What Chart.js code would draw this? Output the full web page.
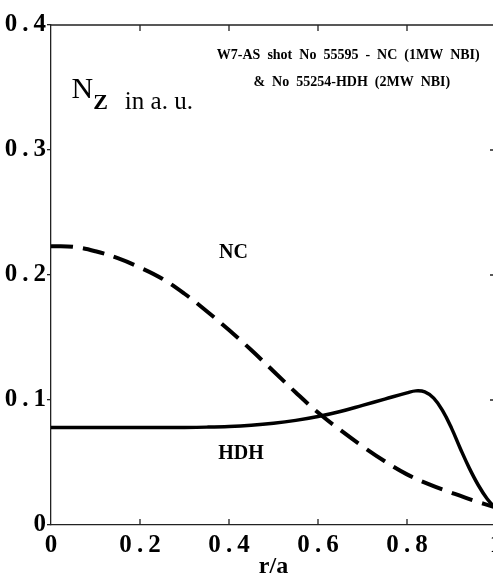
<!DOCTYPE html>
<html>
<head>
<meta charset="utf-8">
<script src="https://cdn.jsdelivr.net/npm/chart.js@4/dist/chart.umd.min.js"></script>
<style>
  html, body { margin: 0; padding: 0; background: #fff; overflow: hidden; }
  #wrap { width: 497px; height: 583px; }
</style>
</head>
<body>
<div id="wrap"><canvas id="grafico" width="497" height="583"></canvas></div>
<script>
// Valores (r/a e N_Z em unidades arbitrárias)
const rNC = [0, 0.05, 0.1, 0.15, 0.2, 0.25, 0.3, 0.35, 0.4, 0.45, 0.5, 0.55, 0.6, 0.65, 0.7, 0.75, 0.8, 0.85, 0.9, 0.95, 1.0];
const valoresNC = [0.223, 0.2225, 0.219, 0.2135, 0.206, 0.197, 0.185, 0.171, 0.156, 0.140, 0.123, 0.106, 0.090, 0.076, 0.063, 0.051, 0.0405, 0.0325, 0.0258, 0.0195, 0.0140];

const rHDH = [0, 0.1, 0.2, 0.3, 0.35, 0.4, 0.45, 0.5, 0.55, 0.6, 0.65, 0.7, 0.75, 0.8, 0.82, 0.84, 0.86, 0.88, 0.9, 0.92, 0.94, 0.96, 0.98, 1.0];
const valoresHDH = [0.078, 0.078, 0.078, 0.0781, 0.0783, 0.0788, 0.0798, 0.0814, 0.0837, 0.0868, 0.0908, 0.0957, 0.1007, 0.1057, 0.1073, 0.1065, 0.1015, 0.0915, 0.0775, 0.061, 0.0455, 0.032, 0.021, 0.013];

const ticksX = [0, 0.2, 0.4, 0.6, 0.8, 1.0];
const ticksY = [0, 0.1, 0.2, 0.3, 0.4];

const fonte = "'Liberation Serif', 'Times New Roman', serif";

// Formata os rótulos como na figura: "0 . 2"
const rotulo = v => (Math.abs(v) < 1e-9 ? '0' : (Math.abs(v - 1) < 1e-9 ? '1' : v.toFixed(1).replace('.', '\u2009.\u2009')));

// Textos dentro do gráfico, posicionados em coordenadas de dados
const anotacoes = {
  id: 'anotacoes',
  afterDraw(chart) {
    const { ctx, chartArea, scales: { x, y } } = chart;
    ctx.save();

    // linha superior e marcas internas
    ctx.strokeStyle = '#222';
    ctx.lineWidth = 1.3;
    ctx.beginPath();
    ctx.moveTo(chartArea.left, chartArea.top);
    ctx.lineTo(chartArea.right, chartArea.top);
    ticksX.forEach(v => {
      if (v === 0 || v === 1) return;
      const px = x.getPixelForValue(v);
      ctx.moveTo(px, chartArea.top);
      ctx.lineTo(px, chartArea.top + 6);
      ctx.moveTo(px, chartArea.bottom);
      ctx.lineTo(px, chartArea.bottom - 6);
    });
    ticksY.forEach(v => {
      if (v === 0 || v === 0.4) return;
      const py = y.getPixelForValue(v);
      ctx.moveTo(chartArea.right, py);
      ctx.lineTo(chartArea.right - 6, py);
    });
    ctx.stroke();

    ctx.fillStyle = '#000';
    ctx.textBaseline = 'alphabetic';

    ctx.textAlign = 'center';
    ctx.font = `bold 14px ${fonte}`;
    ctx.fillText('W7-AS  shot  No  55595  -  NC  (1MW  NBI)', x.getPixelForValue(0.668), y.getPixelForValue(0.3725));
    ctx.fillText('&  No  55254-HDH  (2MW  NBI)', x.getPixelForValue(0.676), y.getPixelForValue(0.351));

    ctx.font = `bold 20px ${fonte}`;
    ctx.fillText('NC', x.getPixelForValue(0.41), y.getPixelForValue(0.2135));
    ctx.fillText('HDH', x.getPixelForValue(0.427), y.getPixelForValue(0.053));

    ctx.textAlign = 'left';
    ctx.font = `30px ${fonte}`;
    ctx.fillText('N', x.getPixelForValue(0.046), y.getPixelForValue(0.342));
    ctx.font = `bold 22px ${fonte}`;
    ctx.fillText('Z', x.getPixelForValue(0.095), y.getPixelForValue(0.3328));
    ctx.font = `25px ${fonte}`;
    ctx.fillText('in a. u.', x.getPixelForValue(0.166), y.getPixelForValue(0.3328));

    ctx.restore();
  }
};

new Chart(document.getElementById('grafico'), {
  type: 'line',
  data: {
    datasets: [
      {
        label: 'NC',
        data: rNC.map((r, i) => ({ x: r, y: valoresNC[i] })),
        borderColor: '#000',
        borderWidth: 4,
        borderDash: [22, 10],
        pointRadius: 0,
        tension: 0.4,
        fill: false
      },
      {
        label: 'HDH',
        data: rHDH.map((r, i) => ({ x: r, y: valoresHDH[i] })),
        borderColor: '#000',
        borderWidth: 3.5,
        pointRadius: 0,
        tension: 0.4,
        fill: false
      }
    ]
  },
  options: {
    responsive: false,
    animation: false,
    layout: { padding: { top: 25, right: 1, left: 0, bottom: 0 } },
    plugins: {
      legend: { display: false },
      tooltip: { enabled: false }
    },
    scales: {
      x: {
        type: 'linear',
        min: 0,
        max: 1,
        afterBuildTicks: s => { s.ticks = ticksX.map(v => ({ value: v })); },
        afterFit: s => { s.height = 58; s.paddingLeft = 0; s.paddingRight = 0; },
        ticks: {
          callback: v => rotulo(v),
          color: '#000',
          font: { family: fonte, size: 25, weight: 'bold' },
          padding: 6,
          maxRotation: 0
        },
        grid: { display: false, drawTicks: false },
        border: { display: true, color: '#222', width: 1.3 },
        title: {
          display: true,
          text: 'r/a',
          color: '#000',
          font: { family: fonte, size: 24, weight: 'bold' },
          padding: { top: 0, bottom: 2 }
        }
      },
      y: {
        min: 0,
        max: 0.4,
        afterBuildTicks: s => { s.ticks = ticksY.map(v => ({ value: v })); },
        afterFit: s => { s.width = 51; },
        ticks: {
          callback: v => rotulo(v),
          color: '#000',
          font: { family: fonte, size: 25, weight: 'bold' },
          padding: 1
        },
        grid: { drawOnChartArea: false, drawTicks: true, tickLength: 4, color: '#222', lineWidth: 1.3 },
        border: { display: true, color: '#222', width: 1.3 }
      }
    }
  },
  plugins: [anotacoes]
});
</script>
</body>
</html>
